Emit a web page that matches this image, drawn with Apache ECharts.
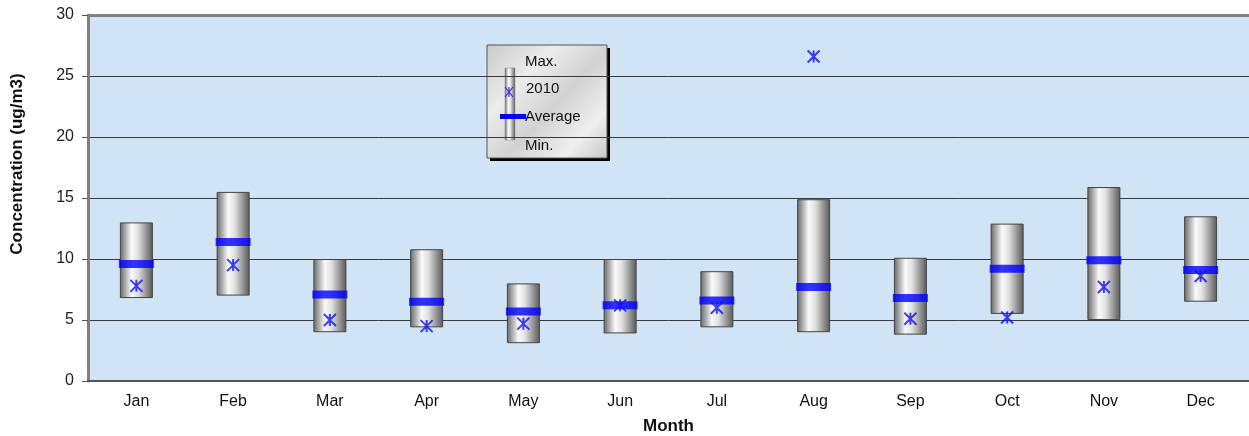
<!DOCTYPE html>
<html>
<head>
<meta charset="utf-8">
<title>Monthly concentration</title>
<script src="https://cdn.jsdelivr.net/npm/echarts@6/dist/echarts.min.js"></script>
<style>
    html, body { margin: 0; padding: 0; background: #fff; }
    #chart { width: 1249px; height: 436px; }
</style>
</head>
<body>
<div id="chart"></div>
<script>
// monthly statistics, ug/m3
const months = ['Jan', 'Feb', 'Mar', 'Apr', 'May', 'Jun', 'Jul', 'Aug', 'Sep', 'Oct', 'Nov', 'Dec']
const minValues = [6.8, 7.0, 4.0, 4.4, 3.1, 3.9, 4.4, 4.0, 3.8, 5.5, 5.0, 6.5]
const maxValues = [13.0, 15.5, 10.0, 10.8, 8.0, 10.0, 9.0, 14.9, 10.1, 12.9, 15.9, 13.5]
const avgValues = [9.6, 11.4, 7.1, 6.5, 5.7, 6.2, 6.6, 7.7, 6.8, 9.2, 9.9, 9.1]
const year2010 = [7.8, 9.5, 5.0, 4.5, 4.7, 6.2, 6.0, 26.6, 5.1, 5.2, 7.7, 8.6]
const yTicks = { min: 0, max: 30, interval: 5 }

const font = '"Liberation Sans", Arial, sans-serif'
// X with a vertical stroke through it
const star = 'path://M0,-6L0,6M-6,-6L6,6M-6,6L6,-6'

const cylinder = () => new echarts.graphic.LinearGradient(0, 0, 1, 0, [
    { offset: 0, color: '#666' },
    { offset: 0.35, color: '#fafafa' },
    { offset: 0.55, color: '#e0e0e0' },
    { offset: 1, color: '#585858' }
])

// little asterisk for the legend box
const legendStar = [[22, 42, 22, 52], [18, 42, 26, 52], [18, 52, 26, 42]].map(p => ({
    type: 'line',
    shape: { x1: p[0], y1: p[1], x2: p[2], y2: p[3] },
    style: { stroke: '#2a2ae0', lineWidth: 1.2 }
}))

const legendText = (text, x, y) => ({
    type: 'text', x: x, y: y,
    style: { text: text, font: '15px ' + font, fill: '#111', verticalAlign: 'middle' }
})

const myEcharts = echarts.init(document.getElementById('chart'))

const option = {
    animation: false,
    textStyle: { fontFamily: font },
    grid: {
        left: 88, right: 0, top: 15, bottom: 55,
        outerBoundsMode: 'none',
        containLabel: false,
        show: true,
        borderWidth: 0,
        backgroundColor: '#d1e4f6'
    },
    xAxis: [
        {
            type: 'category',
            data: months,
            name: 'Month',
            nameLocation: 'middle',
            nameGap: 37,
            nameTextStyle: { fontSize: 17, fontWeight: 'bold', color: '#111' },
            axisLine: { lineStyle: { color: '#555', width: 2 } },
            axisTick: { length: 6, lineStyle: { color: '#444' } },
            axisLabel: { fontSize: 16, color: '#111', margin: 13 }
        },
        {
            type: 'category',
            data: months,
            position: 'top',
            axisLine: { lineStyle: { color: '#808080', width: 3 } },
            axisTick: { show: false },
            axisLabel: { show: false }
        }
    ],
    yAxis: {
        type: 'value',
        min: yTicks.min,
        max: yTicks.max,
        interval: yTicks.interval,
        name: 'Concentration (ug/m3)',
        nameLocation: 'middle',
        nameGap: 62,
        nameTextStyle: { fontSize: 17, fontWeight: 'bold', color: '#111', padding: [0, 0, 0, 68] },
        axisLine: { show: true, lineStyle: { color: '#808080', width: 3 } },
        axisTick: { show: true, length: 6, lineStyle: { color: '#555' } },
        axisLabel: { fontSize: 16, color: '#222', margin: 14 },
        splitLine: { lineStyle: { color: '#3a3a3a', width: 1 } }
    },
    series: [
        {
            type: 'bar',
            stack: 'range',
            data: minValues,
            barWidth: 33,
            itemStyle: { color: 'transparent' },
            silent: true
        },
        {
            type: 'bar',
            stack: 'range',
            data: maxValues.map((v, i) => +(v - minValues[i]).toFixed(2)),
            barWidth: 33,
            itemStyle: { color: cylinder(), borderColor: '#444', borderWidth: 1 }
        },
        {
            type: 'scatter',
            data: avgValues,
            symbol: 'rect',
            symbolSize: [35, 8],
            itemStyle: { color: '#0000ff' },
            z: 3
        },
        {
            type: 'scatter',
            data: year2010,
            symbol: star,
            symbolSize: 12,
            itemStyle: { color: 'none', borderColor: '#1010f0', borderWidth: 2 },
            z: 4
        }
    ],
    graphic: [
        {
            type: 'group',
            x: 487,
            y: 45,
            children: [
                {
                    type: 'rect',
                    shape: { x: 3, y: 3, width: 120, height: 113 },
                    style: { fill: '#000' }
                },
                {
                    type: 'rect',
                    shape: { x: 0, y: 0, width: 120, height: 113 },
                    style: {
                        fill: new echarts.graphic.LinearGradient(0, 0, 1, 1, [
                            { offset: 0, color: '#c9c9c9' },
                            { offset: 0.3, color: '#ececec' },
                            { offset: 0.55, color: '#d2d2d2' },
                            { offset: 0.8, color: '#efefef' },
                            { offset: 1, color: '#c6c6c6' }
                        ]),
                        stroke: '#555',
                        lineWidth: 1
                    }
                },
                {
                    type: 'rect',
                    shape: { x: 18, y: 23, width: 10, height: 72 },
                    style: { fill: cylinder(), stroke: '#888', lineWidth: 0.5 }
                },
                ...legendStar,
                {
                    type: 'rect',
                    shape: { x: 13, y: 69, width: 26, height: 5 },
                    style: { fill: '#0000ff' }
                },
                legendText('Max.', 38, 17),
                legendText('2010', 39, 44),
                legendText('Average', 38, 72),
                legendText('Min.', 38, 101)
            ]
        }
    ]
}

myEcharts.setOption(option)
</script>
</body>
</html>
